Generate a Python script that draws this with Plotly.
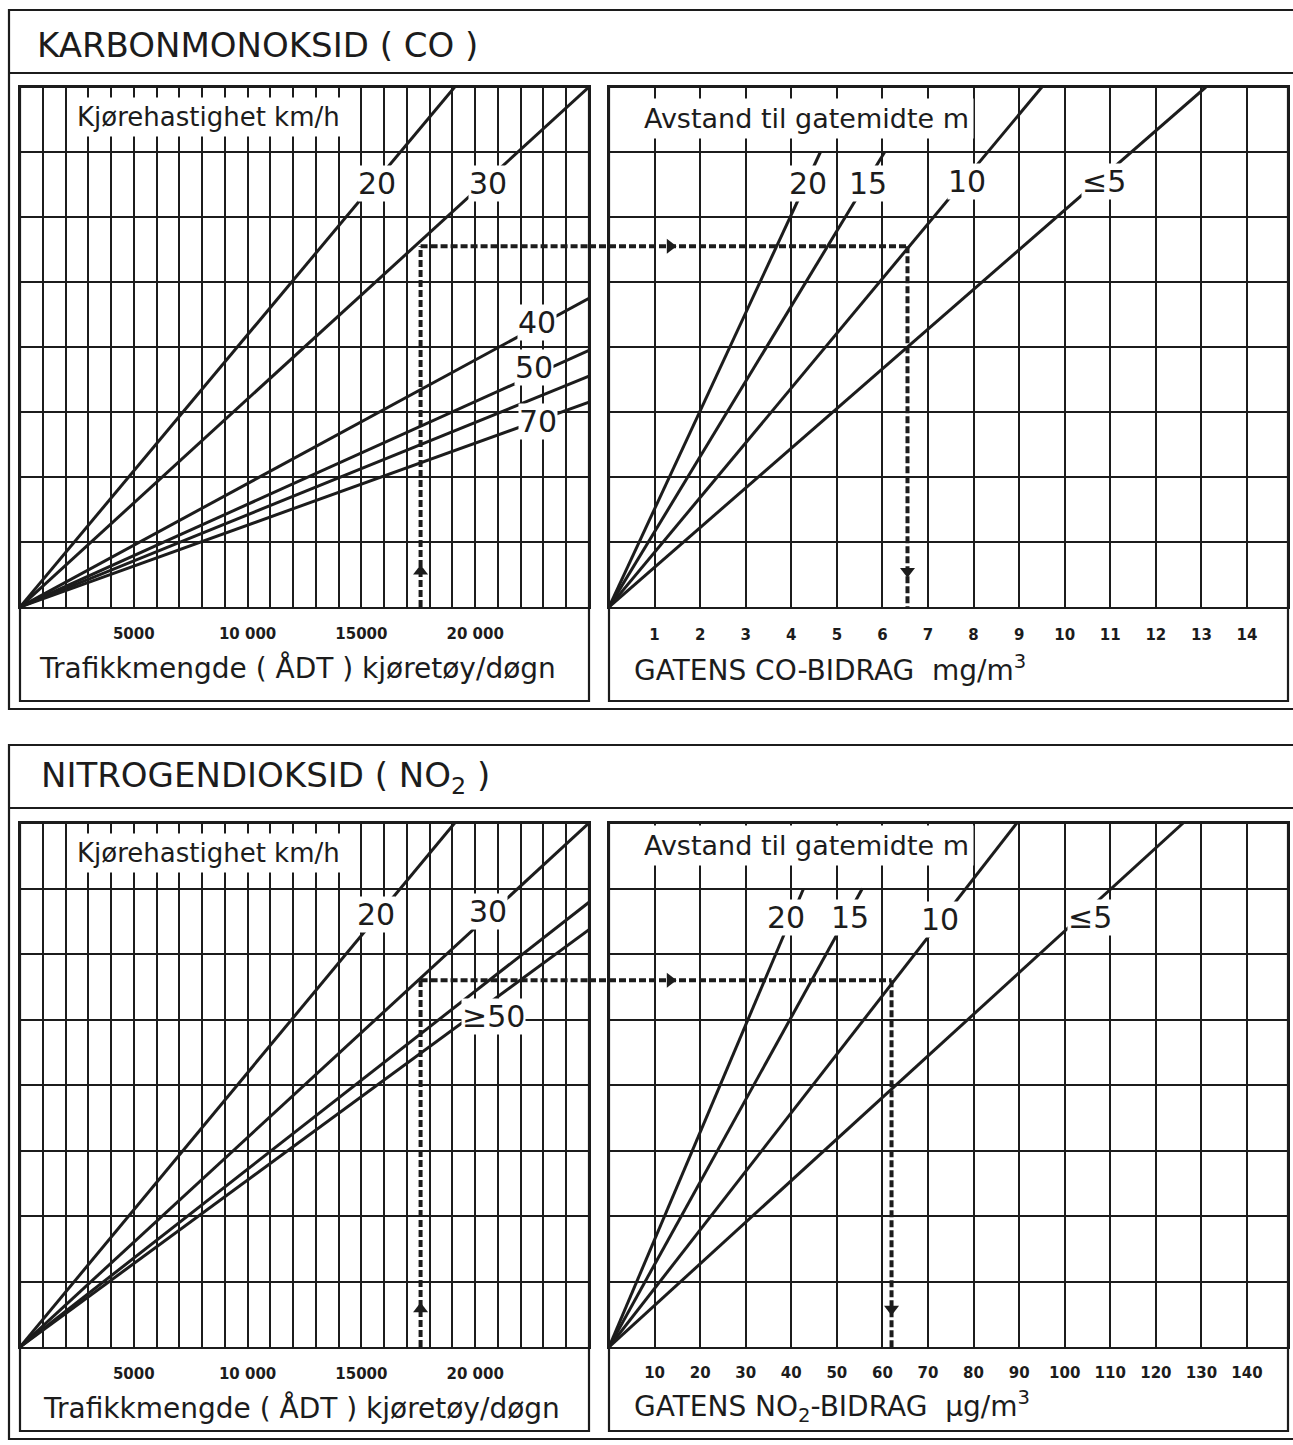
import plotly.graph_objects as go

# ---------------- data ----------------
ADT_TICK_VALUES = [5000, 10000, 15000, 20000]
ADT_TICK_TEXT = ["5000", "10 000", "15000", "20 000"]
CO_TICK_VALUES = [1, 2, 3, 4, 5, 6, 7, 8, 9, 10, 11, 12, 13, 14]
NO2_TICK_VALUES = [10, 20, 30, 40, 50, 60, 70, 80, 90, 100, 110, 120, 130, 140]

# speed lines (left panels): end point of each line (ÅDT, nomogram index)
CO_SPEED_LABELS = ["20", "30", "40", "50", "60", "70"]
CO_SPEED_END_ADT = [19100, 25000, 25000, 25000, 25000, 25000]
CO_SPEED_END_INDEX = [8.0, 8.0, 4.75, 3.95, 3.55, 3.15]

NO2_SPEED_LABELS = ["20", "30", "40", "≥50"]
NO2_SPEED_END_ADT = [19100, 25000, 25000, 25000]
NO2_SPEED_END_INDEX = [8.0, 8.0, 6.79, 6.37]

# distance lines (right panels): end point of each line (concentration, index)
CO_DIST_LABELS = ["20", "15", "10", "≤5"]
CO_DIST_END_CONC = [4.64, 6.05, 9.5, 13.1]
CO_DIST_END_INDEX = [7.0, 7.0, 8.0, 8.0]

NO2_DIST_LABELS = ["20", "15", "10", "≤5"]
NO2_DIST_END_CONC = [42.7, 55.6, 89.5, 126.0]
NO2_DIST_END_INDEX = [7.0, 7.0, 8.0, 8.0]

# worked example (dashed reading path)
CO_EXAMPLE_ADT = 17600
CO_EXAMPLE_INDEX = 5.55
CO_EXAMPLE_CONC = 6.55
NO2_EXAMPLE_ADT = 17600
NO2_EXAMPLE_INDEX = 5.6
NO2_EXAMPLE_CONC = 62.0

# ---------------- styling / layout ----------------
W, H = 1293, 1445
INK = "#1c1c1c"
FONT = "DejaVu Sans"


def px(p):
    return p / W


def py(p):
    return 1 - p / H


# label positions (x along axis, y index) - layout only
CO_SPEED_LABEL_POS = {"20": (15700, 6.52), "30": (20560, 6.52), "40": (22700, 4.38),
                      "50": (22600, 3.68), "70": (22760, 2.85)}
NO2_SPEED_LABEL_POS = {"20": (15640, 6.6), "30": (20560, 6.65), "≥50": (20800, 5.05)}
CO_DIST_LABEL_POS = {"20": (4.37, 6.52), "15": (5.68, 6.52), "10": (7.86, 6.54), "≤5": (10.86, 6.54)}
NO2_DIST_LABEL_POS = {"20": (38.8, 6.55), "15": (52.9, 6.55), "10": (72.6, 6.52), "≤5": (105.5, 6.55)}

fig = go.Figure()


def line(xs, ys, xa, ya, width=3.0, dash=None):
    fig.add_trace(go.Scatter(x=xs, y=ys, mode="lines", xaxis=xa, yaxis=ya,
                             line=dict(color=INK, width=width, dash=dash),
                             hoverinfo="skip"))


def marker(x, y, xa, ya, symbol):
    fig.add_trace(go.Scatter(x=[x], y=[y], mode="markers", xaxis=xa, yaxis=ya,
                             marker=dict(symbol=symbol, size=13, color=INK),
                             cliponaxis=False, hoverinfo="skip"))


annotations = []


def label(text, x, y, xref, yref, size=30, bg="white", xanchor="center", pad=0):
    ann = dict(text=text, x=x, y=y, xref=xref, yref=yref, showarrow=False,
               font=dict(family=FONT, size=size, color=INK),
               borderpad=pad, xanchor=xanchor, yanchor="middle")
    if bg:
        ann["bgcolor"] = bg
    annotations.append(ann)


# speed lines
for lab, ex, ey in zip(CO_SPEED_LABELS, CO_SPEED_END_ADT, CO_SPEED_END_INDEX):
    line([0, ex], [0, ey], "x", "y")
for lab, ex, ey in zip(NO2_SPEED_LABELS, NO2_SPEED_END_ADT, NO2_SPEED_END_INDEX):
    line([0, ex], [0, ey], "x3", "y3")
# distance lines
for lab, ex, ey in zip(CO_DIST_LABELS, CO_DIST_END_CONC, CO_DIST_END_INDEX):
    line([0, ex], [0, ey], "x2", "y2")
for lab, ex, ey in zip(NO2_DIST_LABELS, NO2_DIST_END_CONC, NO2_DIST_END_INDEX):
    line([0, ex], [0, ey], "x4", "y4")

# dashed example paths
DASH = "7px,3px"
for (adt, idx, conc, xl, yl, xr, yr, xmax_l, arrow_conc, arrow_idx) in [
    (CO_EXAMPLE_ADT, CO_EXAMPLE_INDEX, CO_EXAMPLE_CONC, "x", "y", "x2", "y2", 25000, 1.34, 0.55),
    (NO2_EXAMPLE_ADT, NO2_EXAMPLE_INDEX, NO2_EXAMPLE_CONC, "x3", "y3", "x4", "y4", 25000, 13.4, 0.58),
]:
    line([adt, adt], [0, idx], xl, yl, width=4, dash=DASH)
    line([adt, xmax_l], [idx, idx], xl, yl, width=4, dash=DASH)
    line([0, conc], [idx, idx], xr, yr, width=4, dash=DASH)
    line([conc, conc], [idx, 0], xr, yr, width=4, dash=DASH)
    marker(adt, arrow_idx, xl, yl, "triangle-up")
    marker(arrow_conc, idx, xr, yr, "triangle-right")
    marker(conc, arrow_idx, xr, yr, "triangle-down")

# curve labels
for lab, (lx, ly) in CO_SPEED_LABEL_POS.items():
    label(lab, lx, ly, "x", "y", size=30)
for lab, (lx, ly) in NO2_SPEED_LABEL_POS.items():
    label(lab, lx, ly, "x3", "y3", size=30)
for lab, (lx, ly) in CO_DIST_LABEL_POS.items():
    label(lab, lx, ly, "x2", "y2", size=30)
for lab, (lx, ly) in NO2_DIST_LABEL_POS.items():
    label(lab, lx, ly, "x4", "y4", size=30)

# headers inside plots
label("Kjørehastighet km/h", px(208), py(117), "paper", "paper", size=26, pad=4)
label("Kjørehastighet km/h", px(208), py(853), "paper", "paper", size=26, pad=4)
label("Avstand til gatemidte m", px(806), py(118), "paper", "paper", size=27, pad=4)
label("Avstand til gatemidte m", px(806), py(845), "paper", "paper", size=27, pad=4)

# section titles
label("KARBONMONOKSID ( CO )", px(36), py(45), "paper", "paper", size=34, bg=None, xanchor="left")
label("NITROGENDIOKSID ( NO<sub>2</sub> )", px(40), py(777), "paper", "paper", size=34, bg=None, xanchor="left")

# axis titles
label("Trafikkmengde ( ÅDT ) kjøretøy/døgn", px(297), py(668), "paper", "paper", size=28, bg=None)
label("Trafikkmengde ( ÅDT ) kjøretøy/døgn", px(301), py(1408), "paper", "paper", size=28, bg=None)
label("GATENS CO-BIDRAG  mg/m<sup>3</sup>", px(633), py(668), "paper", "paper", size=28, bg=None, xanchor="left")
label("GATENS NO<sub>2</sub>-BIDRAG  µg/m<sup>3</sup>", px(633), py(1406), "paper", "paper", size=28, bg=None, xanchor="left")

# frames
shapes = []


def rect(x0, y0, x1, y1, w=2.2):
    shapes.append(dict(type="rect", xref="paper", yref="paper", x0=px(x0), x1=px(x1),
                       y0=py(y1), y1=py(y0), line=dict(color=INK, width=w), layer="above"))


def hline(x0, x1, y, w=2.2):
    shapes.append(dict(type="line", xref="paper", yref="paper", x0=px(x0), x1=px(x1),
                       y0=py(y), y1=py(y), line=dict(color=INK, width=w), layer="above"))


rect(9, 10, 1310, 709)
hline(9, 1310, 73)
rect(20, 87, 589, 701)
rect(609, 87, 1288, 701)
rect(9, 745, 1310, 1439)
hline(9, 1310, 808)
rect(20, 823, 589, 1431)
rect(609, 823, 1288, 1431)

# dashed bridge between panels
shapes.append(dict(type="line", xref="paper", yref="y", x0=px(589), x1=px(609),
                   y0=CO_EXAMPLE_INDEX, y1=CO_EXAMPLE_INDEX,
                   line=dict(color=INK, width=4, dash=DASH)))
shapes.append(dict(type="line", xref="paper", yref="y3", x0=px(589), x1=px(609),
                   y0=NO2_EXAMPLE_INDEX, y1=NO2_EXAMPLE_INDEX,
                   line=dict(color=INK, width=4, dash=DASH)))

GRID = dict(showgrid=True, gridcolor=INK, gridwidth=1.8, zeroline=False,
            showline=True, mirror=True, linecolor=INK, linewidth=2.2, ticks="",
            fixedrange=True)
TICKFONT = dict(family=FONT, size=15, color=INK, weight="bold")

top_dom = [py(607), py(87)]
bot_dom = [py(1347), py(823)]
left_dom = [px(20), px(589)]
right_dom = [px(609), px(1288)]

adt_x = dict(GRID, range=[0, 25000], tickmode="array", tickvals=ADT_TICK_VALUES,
             ticktext=ADT_TICK_TEXT, tickfont=TICKFONT, ticklabelstandoff=12,
             minor=dict(dtick=1000, tick0=0, showgrid=True, gridcolor=INK, gridwidth=1.8))
idx_y = dict(GRID, range=[0, 8], dtick=1, showticklabels=False)

fig.update_layout(
    width=W, height=H, margin=dict(l=0, r=0, t=0, b=0), autosize=False,
    paper_bgcolor="white", plot_bgcolor="white", showlegend=False,
    xaxis=dict(adt_x, domain=left_dom, anchor="y"),
    yaxis=dict(idx_y, domain=top_dom, anchor="x"),
    xaxis2=dict(GRID, domain=right_dom, anchor="y2", range=[0, 14.9], tickmode="array",
                tickvals=CO_TICK_VALUES, ticktext=[str(v) for v in CO_TICK_VALUES],
                tickfont=TICKFONT, ticklabelstandoff=13),
    yaxis2=dict(idx_y, domain=top_dom, anchor="x2"),
    xaxis3=dict(adt_x, domain=left_dom, anchor="y3"),
    yaxis3=dict(idx_y, domain=bot_dom, anchor="x3"),
    xaxis4=dict(GRID, domain=right_dom, anchor="y4", range=[0, 149], tickmode="array",
                tickvals=NO2_TICK_VALUES, ticktext=[str(v) for v in NO2_TICK_VALUES],
                tickfont=TICKFONT, ticklabelstandoff=11),
    yaxis4=dict(idx_y, domain=bot_dom, anchor="x4"),
    annotations=annotations,
    shapes=shapes,
)

fig.write_html("out.html", config={"displayModeBar": False},
               post_script="document.body.style.margin='0';")
